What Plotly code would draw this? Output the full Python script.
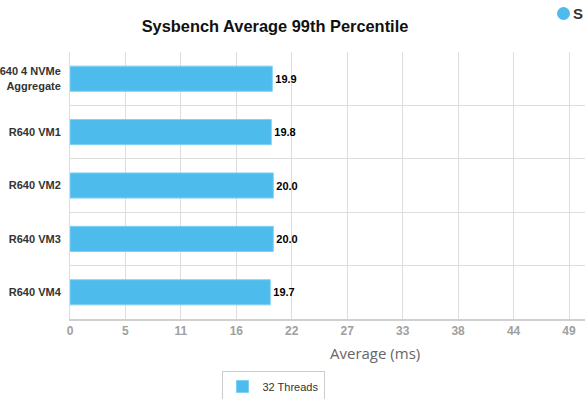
import plotly.graph_objects as go

categories = ["R640 4 NVMe<br>Aggregate", "R640 VM1", "R640 VM2", "R640 VM3", "R640 VM4"]
values_32_threads = [19.9, 19.8, 20.0, 20.0, 19.7]
series_name = "32 Threads"
tick_step = 60 / 11
tick_values = [i * tick_step for i in range(11)]
tick_labels = [str(round(v)) for v in tick_values]

fig = go.Figure()
fig.add_trace(go.Bar(
    y=categories, x=values_32_threads, orientation="h", name=series_name,
    marker=dict(color="#4dbbec", line=dict(color="#7fd0f3", width=1)),
    width=0.47,
    text=[f"{v:.1f}" for v in values_32_threads], textposition="outside",
    textfont=dict(family="Liberation Sans, Arial", size=11, color="#000000", weight="bold"),
    cliponaxis=False, showlegend=True,
))

fig.update_layout(
    width=585, height=399,
    margin=dict(l=70, r=0, t=52, b=80, autoexpand=False),
    paper_bgcolor="white", plot_bgcolor="white",
    title=dict(text="<b>Sysbench Average 99th Percentile</b>",
               x=(275 - 70) / 515, xref="paper", xanchor="center",
               y=1 - 26 / 399, yref="container", yanchor="middle",
               font=dict(family="Liberation Sans, Arial", size=16.4, color="#111111")),
    xaxis=dict(range=[0, 515 / 10.165], tickvals=tick_values, ticktext=tick_labels,
               showgrid=True, gridcolor="#dddddd", gridwidth=1,
               showline=True, linecolor="#d0d0d0", linewidth=2, mirror=False,
               zeroline=False, ticks="", automargin=False,
               tickfont=dict(family="Liberation Sans, Arial", size=12, color="#a0a0a0", weight="bold")),
    yaxis=dict(type="category", autorange="reversed", tickson="boundaries",
               showgrid=True, gridcolor="#dddddd", gridwidth=1,
               showline=True, linecolor="#dddddd", linewidth=1,
               ticks="", ticklabelstandoff=6, automargin=False,
               tickfont=dict(family="Liberation Sans, Arial", size=11, color="#333333", weight="bold")),
    bargap=0.53,
    legend=dict(orientation="h", x=(273 - 70) / 515, xanchor="center",
                y=(319 - 371) / 267, yanchor="top",
                bordercolor="#cccccc", borderwidth=1, itemwidth=30,
                font=dict(family="Liberation Sans, Arial", size=11, color="#333333")),
    annotations=[dict(text="Average (ms)", xref="paper", yref="paper",
                      x=(375 - 70) / 515, y=(319 - 353) / 267,
                      xanchor="center", yanchor="middle", showarrow=False,
                      font=dict(family="Open Sans, Arial", size=15, color="#666666")),
                 dict(text="<b>S</b>", xref="paper", yref="paper",
                      x=(578 - 70) / 515, y=(319 - 13) / 267,
                      xanchor="center", yanchor="middle", showarrow=False,
                      font=dict(family="Liberation Sans, Arial", size=15, color="#333333"))],
    shapes=[dict(type="circle", xref="paper", yref="paper",
                 x0=(557 - 70) / 515, x1=(570 - 70) / 515,
                 y0=(319 - 20) / 267, y1=(319 - 7) / 267,
                 fillcolor="#4dbbec", line=dict(width=0))],
)

fig.write_html("out.html", config={"displayModeBar": False},
               post_script="document.body.style.margin='0';document.body.style.overflow='hidden';")
